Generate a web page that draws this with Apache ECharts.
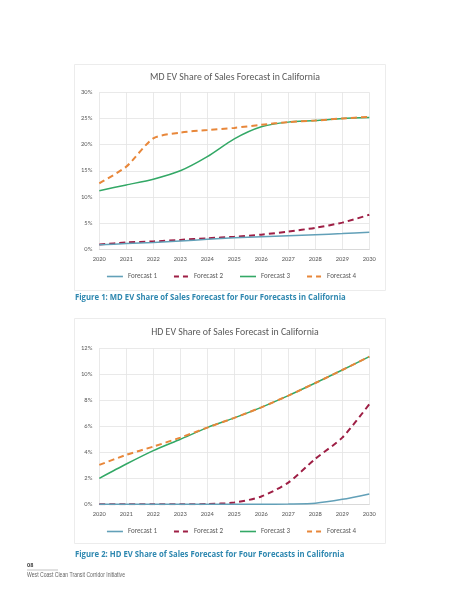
<!DOCTYPE html>
<html><head><meta charset="utf-8">
<script src="https://cdn.jsdelivr.net/npm/echarts@6/dist/echarts.min.js"></script>
<style>html,body{margin:0;padding:0;background:#fff}#c{width:463px;height:599px}</style>
</head><body><div id="c"></div>
<script>
const years = ['2020','2021','2022','2023','2024','2025','2026','2027','2028','2029','2030'];
const seriesNames = ['Forecast 1','Forecast 2','Forecast 3','Forecast 4'];
// MD chart values (%)
const mdF1 = [0.85,1.1,1.3,1.6,1.9,2.2,2.4,2.6,2.8,3.0,3.25];
const mdF2 = [0.9,1.3,1.5,1.8,2.1,2.4,2.8,3.4,4.1,5.1,6.6];
const mdF3 = [11.2,12.3,13.4,15.0,17.7,21.1,23.4,24.3,24.6,25.0,25.2];
const mdF4 = [12.6,15.8,21.2,22.3,22.8,23.2,23.8,24.3,24.6,25.0,25.3];
// HD chart values (%)
const hdF1 = [0,0,0,0,0,0,0,0.02,0.08,0.38,0.8];
const hdF2 = [0,0,0,0,0.02,0.13,0.6,1.67,3.5,5.13,7.7];
const hdF3 = [2.0,3.1,4.13,5.0,5.9,6.65,7.46,8.36,9.33,10.33,11.36];
const hdF4 = [3.03,3.8,4.44,5.13,5.9,6.65,7.46,8.36,9.33,10.33,11.36];
const mdTitle = 'MD EV Share of Sales Forecast in California';
const hdTitle = 'HD EV Share of Sales Forecast in California';
const caption1 = 'Figure 1: MD EV Share of Sales Forecast for Four Forecasts in California';
const caption2 = 'Figure 2: HD EV Share of Sales Forecast for Four Forecasts in California';
const pageNo = '08';
const footer = 'West Coast Clean Transit Corridor Initiative';

const colors = ['#62a0b8','#9e1f45','#33a866','#e8873a'];
const dashes = ['solid',[6,4],'solid',[6,4]];
const widths = [1.5,2,1.5,2];
const font = 'Calibri, Carlito, "Open Sans", sans-serif';
const labelColor = '#595959';
const solidIcon = 'path://M0,0 L16,0 L16,1.6 L0,1.6 Z';
const dashIcon = 'path://M1,0 L6,0 L6,2 L1,2 Z M10,0 L15,0 L15,2 L10,2 Z';

function mkSeries(data, gi){
  return data.map((d,i)=>({
    name: seriesNames[i], type:'line', xAxisIndex:gi, yAxisIndex:gi, data:d,
    symbol:'none', smooth:0.25, z: 10 - i + (i===3?5:0),
    lineStyle:{color:colors[i], width:widths[i], type:dashes[i]},
    itemStyle:{color:colors[i]}
  }));
}
function xAx(gi){
  return {type:'category', gridIndex:gi, data:years, boundaryGap:false,
    axisLine:{lineStyle:{color:'#d9d9d9'}}, axisTick:{show:false},
    axisLabel:{color:labelColor, fontSize:6.5, fontFamily:font, margin:7},
    splitLine:{show:true, lineStyle:{color:'#e3e3e3', width:0.8}}};
}
function yAx(gi, max, interval){
  return {type:'value', gridIndex:gi, min:0, max:max, interval:interval,
    axisLine:{show:false}, axisTick:{show:false},
    axisLabel:{color:labelColor, fontSize:6.5, fontFamily:font, margin:7, formatter: v=>v+'%'},
    splitLine:{show:true, lineStyle:{color:'#e3e3e3', width:0.8}}};
}
function legend(top){
  return {top:top, left:'center', itemWidth:16, itemHeight:2, itemGap:17, itemTextGap:6,
    data: seriesNames.map((n,i)=>({name:n, icon: dashes[i]==='solid'?solidIcon:dashIcon})),
    textStyle:{color:labelColor, fontSize:7, fontFamily:font}};
}
const chart = echarts.init(document.getElementById('c'), null, {renderer:'canvas'});
chart.setOption({
  backgroundColor:'#fff',
  animation:false,
  title:[
    {text: mdTitle, left:230, top:68, textAlign:'center', textStyle:{color:labelColor, fontSize:9.8, fontWeight:'normal', fontFamily:font}},
    {text: hdTitle, left:230, top:323, textAlign:'center', textStyle:{color:labelColor, fontSize:9.8, fontWeight:'normal', fontFamily:font}}
  ],
  grid:[
    {left:99.3, right:93.7, top:92.3, bottom:349.7},
    {left:99.3, right:93.7, top:348.3, bottom:94.7}
  ],
  xAxis:[xAx(0), xAx(1)],
  yAxis:[yAx(0,30,5), yAx(1,12,2)],
  legend:[legend(268), legend(523)],
  series: mkSeries([mdF1,mdF2,mdF3,mdF4],0).concat(mkSeries([hdF1,hdF2,hdF3,hdF4],1)),
  graphic:[
    {type:'rect', shape:{x:74.5,y:64.5,width:311,height:226}, style:{fill:'none', stroke:'#ececec', lineWidth:1}, silent:true, z:-1},
    {type:'rect', shape:{x:74.5,y:318.5,width:311,height:225}, style:{fill:'none', stroke:'#ececec', lineWidth:1}, silent:true, z:-1},
    {type:'text', x:75, y:293, scaleX:0.9, style:{text:caption1, fill:'#2f88b0', font:'bold 8.6px "Open Sans", sans-serif'}},
    {type:'text', x:75, y:550, scaleX:0.9, style:{text:caption2, fill:'#2f88b0', font:'bold 8.6px "Open Sans", sans-serif'}},
    {type:'text', x:27, y:562, style:{text:pageNo, fill:'#444', font:'bold 5.5px "Open Sans", sans-serif'}},
    {type:'line', shape:{x1:27,y1:570,x2:58,y2:570}, style:{stroke:'#999', lineWidth:0.6}},
    {type:'text', x:27, y:572, scaleX:0.8, style:{text:footer, fill:'#666', font:'6.4px "Liberation Sans", sans-serif'}}
  ]
});
</script></body></html>
